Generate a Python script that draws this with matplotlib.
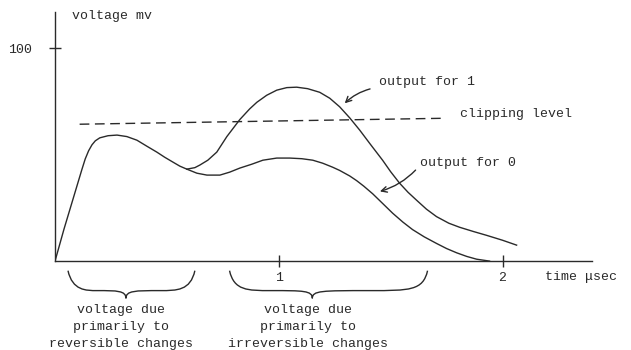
import numpy as np
import matplotlib.pyplot as plt
from matplotlib.path import Path
from matplotlib.patches import PathPatch

plt.rcParams['font.family'] = ['Liberation Mono', 'DejaVu Sans Mono']

# common rise of both pulses (time in usec, voltage in mV)
t_rise = [0.0, 0.02, 0.04, 0.06, 0.08, 0.10, 0.12, 0.135, 0.15, 0.165, 0.18, 0.20,
          0.237, 0.277, 0.321, 0.366, 0.41, 0.455, 0.49, 0.527, 0.558, 0.589]
v_rise = [0.0, 7.5, 15.0, 22.0, 29.0, 36.0, 43.0, 48.0, 51.8, 54.6, 56.5, 57.9,
          58.9, 59.2, 58.5, 56.8, 54.0, 51.2, 48.8, 46.5, 44.6, 43.2]

# output for 0
t_zero = [0.634, 0.679, 0.737, 0.781, 0.826, 0.879, 0.929, 0.991, 1.049, 1.103,
          1.152, 1.196, 1.241, 1.272, 1.317, 1.348, 1.38, 1.42, 1.465, 1.509,
          1.555, 1.598, 1.65, 1.705, 1.75, 1.795, 1.84, 1.884, 1.942]
v_zero = [41.3, 40.4, 40.4, 41.8, 43.7, 45.5, 47.4, 48.4, 48.4, 48.1,
          47.4, 46.0, 44.1, 42.6, 40.0, 37.8, 35.2, 31.6, 27.0, 22.5,
          18.3, 14.8, 11.4, 8.3, 5.9, 3.9, 2.2, 0.9, 0.0]

# output for 1
t_one = [0.625, 0.647, 0.683, 0.723, 0.768, 0.826, 0.87, 0.902, 0.946, 0.991,
         1.036, 1.08, 1.129, 1.183, 1.228, 1.272, 1.317, 1.362, 1.41, 1.464,
         1.50, 1.54, 1.578, 1.616, 1.66, 1.705, 1.76, 1.808, 1.87, 1.929,
         2.0, 2.063]
v_one = [43.9, 45.1, 47.4, 51.2, 58.5, 66.5, 71.5, 74.6, 77.9, 80.3,
         81.5, 81.7, 81.0, 79.3, 76.5, 72.5, 67.3, 61.5, 54.8, 47.4,
         42.0, 36.6, 32.3, 28.6, 24.4, 20.9, 17.8, 15.9, 13.9, 12.1,
         9.8, 7.5]

clip_t = [0.11, 1.74]
clip_v = [64.3, 67.1]

ink = '#2a2a2a'

fig = plt.figure(figsize=(6.31, 3.5), dpi=100)
ax = fig.add_axes([0.0872, 0.254, 0.851, 0.711])
ax.set_xlim(0, 2.40)
ax.set_ylim(0, 116.9)
for s in ['top', 'right']:
    ax.spines[s].set_visible(False)
for s in ['left', 'bottom']:
    ax.spines[s].set_color(ink)
    ax.spines[s].set_linewidth(1.0)

ax.plot(t_rise + t_zero, v_rise + v_zero, color=ink, lw=1.0)
ax.plot(t_rise[-1:] + t_one, v_rise[-1:] + v_one, color=ink, lw=1.0)
ax.plot(clip_t, clip_v, color=ink, lw=1.0, dashes=(7, 4))

ax.set_xticks([1, 2])
ax.set_xticklabels(['1', '2'])
ax.set_yticks([100])
ax.set_yticklabels(['100'])
ax.tick_params(axis='both', direction='inout', length=9, width=1.0, color=ink,
               labelsize=9.5, labelcolor=ink)
ax.tick_params(axis='x', pad=3)
ax.tick_params(axis='y', pad=12)

fs = 9.5
ax.text(0.076, 115, 'voltage mv', fontsize=fs, color=ink, va='center', clip_on=False)
ax.text(2.19, -7.5, 'time \u03bcsec', fontsize=fs, color=ink, va='center', clip_on=False)
ax.text(1.45, 84, 'output for 1', fontsize=fs, color=ink, va='center')
ax.text(1.81, 69, 'clipping level', fontsize=fs, color=ink, va='center')
ax.text(1.63, 46, 'output for 0', fontsize=fs, color=ink, va='center')

ax.annotate('', xy=(1.286, 73.2), xytext=(1.42, 81.2),
            arrowprops=dict(arrowstyle='->', color=ink, lw=1.0,
                            connectionstyle='arc3,rad=0.15'))
ax.annotate('', xy=(1.44, 32.4), xytext=(1.62, 43.7),
            arrowprops=dict(arrowstyle='->', color=ink, lw=1.0,
                            connectionstyle='arc3,rad=-0.15'))


def brace(x0, x1, xm, y_top, y_bot):
    # curly brace hanging below the axis
    ymid = y_top + 0.72 * (y_bot - y_top)
    verts = [(x0, y_top), (x0 + 0.02, ymid), (x0 + 0.08, ymid), ((x0 + xm) / 2, ymid),
             (xm - 0.04, ymid), (xm, ymid), (xm, y_bot),
             (xm, ymid), (xm + 0.04, ymid), ((xm + x1) / 2, ymid),
             (x1 - 0.08, ymid), (x1 - 0.02, ymid), (x1, y_top)]
    codes = [Path.MOVETO] + [Path.CURVE4] * 12
    ax.add_patch(PathPatch(Path(verts, codes), fill=False, edgecolor=ink, lw=1.0,
                           clip_on=False))


brace(0.058, 0.625, 0.317, -4.5, -17.5)
brace(0.78, 1.665, 1.15, -4.5, -17.5)

ax.text(0.295, -31, 'voltage due\nprimarily to\nreversible changes', fontsize=fs,
        color=ink, ha='center', va='center', multialignment='center',
        linespacing=1.55, clip_on=False)
ax.text(1.13, -31, 'voltage due\nprimarily to\nirreversible changes', fontsize=fs,
        color=ink, ha='center', va='center', multialignment='center',
        linespacing=1.55, clip_on=False)

fig.savefig('out.png', dpi=100)
